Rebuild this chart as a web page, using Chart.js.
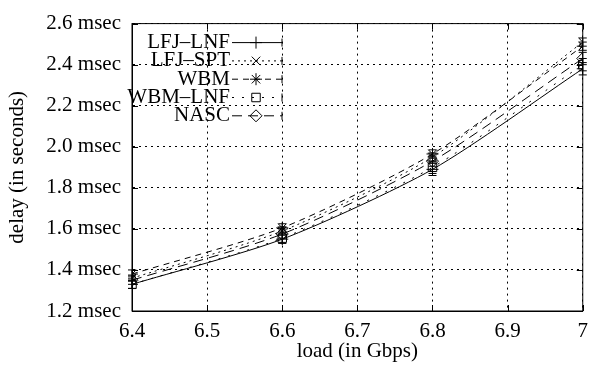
<!DOCTYPE html>
<html>
<head>
<meta charset="utf-8">
<script src="https://cdn.jsdelivr.net/npm/chart.js@4/dist/chart.umd.min.js"></script>
<style>
  body { margin: 0; background: #fff; }
  #wrap { width: 596px; height: 370px; }
</style>
</head>
<body>
<div id="wrap"><canvas id="delay-chart"></canvas></div>
<script>
const loads = [6.4, 6.6, 6.8, 7.0];
const lfjLnf = [1.33, 1.55, 1.89, 2.38];
const lfjSpt = [1.36, 1.59, 1.95, 2.51];
const wbm = [1.38, 1.605, 1.965, 2.49];
const wbmLnf = [1.33, 1.555, 1.90, 2.40];
const nasc = [1.35, 1.575, 1.93, 2.43];
const lfjLnfErr = [0.02, 0.02, 0.03, 0.03];
const lfjSptErr = [0.015, 0.02, 0.02, 0.02];
const wbmErr = [0.02, 0.02, 0.02, 0.02];
const wbmLnfErr = [0.02, 0.025, 0.03, 0.03];
const nascErr = [0.02, 0.02, 0.025, 0.03];
const xTicks = [6.4, 6.5, 6.6, 6.7, 6.8, 6.9, 7];
const yTicks = [1.2, 1.4, 1.6, 1.8, 2.0, 2.2, 2.4, 2.6];

const serif = "'Liberation Serif', 'DejaVu Serif', serif";

function series(label, vals, errs, style, dash) {
    return {
        label: label,
        data: vals.map((v, i) => ({ x: loads[i], y: v, err: errs[i] })),
        borderColor: '#000',
        backgroundColor: 'transparent',
        borderWidth: 1,
        borderDash: dash,
        pointStyle: style,
        pointRadius: 6,
        pointBorderColor: '#000',
        pointBackgroundColor: 'transparent',
        pointBorderWidth: 1,
        tension: 0.25
    };
}

// frame with inward tics, like gnuplot
const frame = {
    id: 'frame',
    beforeDatasetsDraw(chart) {
        const a = chart.chartArea;
        const c = chart.ctx;
        const xs = chart.scales.x, ys = chart.scales.y;
        c.save();
        c.strokeStyle = '#000';
        c.lineWidth = 1;
        c.setLineDash([]);
        c.strokeRect(a.left, a.top, a.right - a.left, a.bottom - a.top);
        c.beginPath();
        xTicks.forEach(v => {
            const px = Math.round(xs.getPixelForValue(v)) + 0.5;
            c.moveTo(px, a.bottom); c.lineTo(px, a.bottom - 6);
            c.moveTo(px, a.top); c.lineTo(px, a.top + 6);
        });
        yTicks.forEach(v => {
            const py = Math.round(ys.getPixelForValue(v)) + 0.5;
            c.moveTo(a.left, py); c.lineTo(a.left + 6, py);
            c.moveTo(a.right, py); c.lineTo(a.right - 6, py);
        });
        c.stroke();
        c.restore();
    }
};

// error bars + legend
const gnuplotBits = {
    id: 'gnuplotBits',
    afterDatasetsDraw(chart) {
        const c = chart.ctx;
        const ys = chart.scales.y;
        c.save();
        c.strokeStyle = '#000';
        c.lineWidth = 1;
        c.setLineDash([]);
        chart.data.datasets.forEach((ds, di) => {
            chart.getDatasetMeta(di).data.forEach((pt, i) => {
                const e = ds.data[i].err;
                const top = ys.getPixelForValue(ds.data[i].y + e);
                const bot = ys.getPixelForValue(ds.data[i].y - e);
                c.beginPath();
                c.moveTo(pt.x, top); c.lineTo(pt.x, bot);
                c.moveTo(pt.x - 4, top); c.lineTo(pt.x + 4, top);
                c.moveTo(pt.x - 4, bot); c.lineTo(pt.x + 4, bot);
                c.stroke();
            });
        });
        const left = chart.chartArea.left;
        const top = chart.chartArea.top;
        c.font = '21px ' + serif;
        c.textAlign = 'right';
        c.textBaseline = 'middle';
        chart.data.datasets.forEach((ds, di) => {
            const y = top + 19 + di * 18.3;
            const tx = left + 98;
            c.fillStyle = '#000';
            c.fillText(ds.label, tx, y);
            c.setLineDash(ds.borderDash || []);
            c.beginPath();
            c.moveTo(tx + 2, y); c.lineTo(tx + 52, y);
            c.stroke();
            c.setLineDash([]);
            c.beginPath();
            c.moveTo(tx + 52, y - 4); c.lineTo(tx + 52, y + 4);
            c.stroke();
            c.fillStyle = 'rgba(0,0,0,0)';
            Chart.helpers.drawPoint(c, { pointStyle: ds.pointStyle, radius: 6, rotation: 0, borderWidth: 1 }, tx + 26, y);
        });
        c.restore();
    }
};

const ctx = document.getElementById('delay-chart').getContext('2d');
new Chart(ctx, {
    type: 'line',
    data: {
        datasets: [
            series('LFJ\u2013LNF', lfjLnf, lfjLnfErr, 'cross', []),
            series('LFJ\u2013SPT', lfjSpt, lfjSptErr, 'crossRot', [2, 4]),
            series('WBM', wbm, wbmErr, 'star', [6, 5]),
            series('WBM\u2013LNF', wbmLnf, wbmLnfErr, 'rect', [2, 8]),
            series('NASC', nasc, nascErr, 'rectRot', [10, 6])
        ]
    },
    options: {
        responsive: true,
        maintainAspectRatio: false,
        animation: false,
        layout: { padding: { top: 13, right: 8, left: 0, bottom: 0 } },
        plugins: { legend: { display: false }, tooltip: { enabled: false } },
        scales: {
            x: {
                type: 'linear',
                min: 6.4,
                max: 7,
                afterBuildTicks: s => { s.ticks = xTicks.map(v => ({ value: v })); },
                afterFit: s => { s.height = 59; },
                ticks: {
                    color: '#000',
                    font: { family: serif, size: 21 },
                    padding: 8,
                    maxRotation: 0,
                    callback: v => (v === 7 ? '7' : v.toFixed(1))
                },
                grid: { color: '#000', lineWidth: 1, drawTicks: false },
                border: { display: true, color: '#000', width: 1, dash: [2, 4] },
                title: { display: true, text: 'load (in Gbps)', color: '#000', font: { family: serif, size: 21 }, padding: { top: 0, bottom: 6 } }
            },
            y: {
                min: 1.2,
                max: 2.6,
                afterBuildTicks: s => { s.ticks = yTicks.map(v => ({ value: v })); },
                afterFit: s => { s.width = 132; },
                ticks: {
                    color: '#000',
                    font: { family: serif, size: 21 },
                    padding: 11,
                    callback: v => v.toFixed(1) + ' msec'
                },
                grid: { color: '#000', lineWidth: 1, drawTicks: false },
                border: { display: true, color: '#000', width: 1, dash: [2, 4] },
                title: { display: true, text: 'delay (in seconds)', color: '#000', font: { family: serif, size: 21 }, padding: { top: 5, bottom: 0 } }
            }
        }
    },
    plugins: [frame, gnuplotBits]
});
</script>
</body>
</html>
